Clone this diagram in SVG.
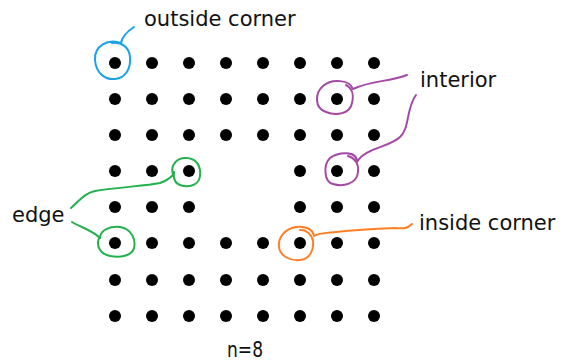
<svg xmlns="http://www.w3.org/2000/svg" width="563" height="362" viewBox="0 0 563 362">
  <style>
    .dot { fill: #000; }
    .lbl { font-family: "DejaVu Sans", "Liberation Sans", sans-serif; font-size: 21px; fill: #111; }
    .ink { fill: none; stroke-width: 2; stroke-linecap: round; stroke-linejoin: round; }
    .blue { stroke: #1aa3e8; }
    .purple { stroke: #a349a4; }
    .green { stroke: #22b14c; }
    .orange { stroke: #ff7f27; }
  </style>
  <rect width="563" height="362" fill="#fff"/>

  <!-- 8x8 lattice with a 2x2 hole -->
  <g id="lattice">
    <g id="row0">
      <circle class="dot" cx="115" cy="63" r="6"/><circle class="dot" cx="152" cy="63" r="6"/><circle class="dot" cx="189" cy="63" r="6"/><circle class="dot" cx="226" cy="63" r="6"/><circle class="dot" cx="263" cy="63" r="6"/><circle class="dot" cx="300" cy="63" r="6"/><circle class="dot" cx="337" cy="63" r="6"/><circle class="dot" cx="374" cy="63" r="6"/>
    </g>
    <g id="row1">
      <circle class="dot" cx="115" cy="99" r="6"/><circle class="dot" cx="152" cy="99" r="6"/><circle class="dot" cx="189" cy="99" r="6"/><circle class="dot" cx="226" cy="99" r="6"/><circle class="dot" cx="263" cy="99" r="6"/><circle class="dot" cx="300" cy="99" r="6"/><circle class="dot" cx="337" cy="99" r="6"/><circle class="dot" cx="374" cy="99" r="6"/>
    </g>
    <g id="row2">
      <circle class="dot" cx="115" cy="135" r="6"/><circle class="dot" cx="152" cy="135" r="6"/><circle class="dot" cx="189" cy="135" r="6"/><circle class="dot" cx="226" cy="135" r="6"/><circle class="dot" cx="263" cy="135" r="6"/><circle class="dot" cx="300" cy="135" r="6"/><circle class="dot" cx="337" cy="135" r="6"/><circle class="dot" cx="374" cy="135" r="6"/>
    </g>
    <g id="row3">
      <circle class="dot" cx="115" cy="171" r="6"/><circle class="dot" cx="152" cy="171" r="6"/><circle class="dot" cx="189" cy="171" r="6"/><circle class="dot" cx="300" cy="171" r="6"/><circle class="dot" cx="337" cy="171" r="6"/><circle class="dot" cx="374" cy="171" r="6"/>
    </g>
    <g id="row4">
      <circle class="dot" cx="115" cy="207" r="6"/><circle class="dot" cx="152" cy="207" r="6"/><circle class="dot" cx="189" cy="207" r="6"/><circle class="dot" cx="300" cy="207" r="6"/><circle class="dot" cx="337" cy="207" r="6"/><circle class="dot" cx="374" cy="207" r="6"/>
    </g>
    <g id="row5">
      <circle class="dot" cx="115" cy="243" r="6"/><circle class="dot" cx="152" cy="243" r="6"/><circle class="dot" cx="189" cy="243" r="6"/><circle class="dot" cx="226" cy="243" r="6"/><circle class="dot" cx="263" cy="243" r="6"/><circle class="dot" cx="300" cy="243" r="6"/><circle class="dot" cx="337" cy="243" r="6"/><circle class="dot" cx="374" cy="243" r="6"/>
    </g>
    <g id="row6">
      <circle class="dot" cx="115" cy="280" r="6"/><circle class="dot" cx="152" cy="280" r="6"/><circle class="dot" cx="189" cy="280" r="6"/><circle class="dot" cx="226" cy="280" r="6"/><circle class="dot" cx="263" cy="280" r="6"/><circle class="dot" cx="300" cy="280" r="6"/><circle class="dot" cx="337" cy="280" r="6"/><circle class="dot" cx="374" cy="280" r="6"/>
    </g>
    <g id="row7">
      <circle class="dot" cx="115" cy="316" r="6"/><circle class="dot" cx="152" cy="316" r="6"/><circle class="dot" cx="189" cy="316" r="6"/><circle class="dot" cx="226" cy="316" r="6"/><circle class="dot" cx="263" cy="316" r="6"/><circle class="dot" cx="300" cy="316" r="6"/><circle class="dot" cx="337" cy="316" r="6"/><circle class="dot" cx="374" cy="316" r="6"/>
    </g>
  </g>

  <!-- hand-drawn loops and leader strokes -->
  <g id="connectors">
    <path class="ink blue" d="M134,27 C128,31 122,36 121,43 C108,38 94,46 95,60 C96,74 106,80 115,79 C126,78 131,68 130,57 C129,47 122,42 112,43"/>
    <path class="ink purple" d="M407,75 C390,82 372,80 353,89 C350,80 332,78 323,86 C315,93 314,108 326,112 C336,116 350,114 352,103 C354,95 352,88 346,85"/>
    <path class="ink purple" d="M416,95 C406,108 410,128 400,137 C390,147 365,148 357,162 C357,150 338,152 330,158 C323,165 324,182 333,184 C343,187 357,184 358,172 C359,164 355,158 348,156"/>
    <path class="ink green" d="M71,208 C80,200 85,193 95,191 C120,187 145,186 160,183 C166,181 170,178 173,175 C170,165 177,157 187,158 C198,159 201,168 200,176 C199,184 192,187 184,186 C176,185 173,180 174,172"/>
    <path class="ink green" d="M72,222 C82,228 92,230 100,238 C100,230 110,226 120,227 C132,229 136,240 134,248 C132,256 120,258 110,256 C100,254 96,246 99,238"/>
    <path class="ink orange" d="M412,224 C406,230 400,228 395,228 C370,229 345,231 336,232 C325,233 318,233 314,236 C313,229 305,226 296,227 C284,229 278,238 279,247 C280,256 290,261 300,260 C310,259 314,250 313,241 C312,235 306,229 300,230"/>
  </g>

  <g id="label-outside-corner"><text class="lbl" x="144" y="26">outside corner</text></g>
  <g id="label-interior"><text class="lbl" x="420" y="87">interior</text></g>
  <g id="label-edge"><text class="lbl" x="12" y="222">edge</text></g>
  <g id="label-inside-corner"><text class="lbl" x="419" y="230">inside corner</text></g>
  <g id="label-n"><text class="lbl" x="227" y="357" textLength="36" lengthAdjust="spacingAndGlyphs">n=8</text></g>
</svg>
